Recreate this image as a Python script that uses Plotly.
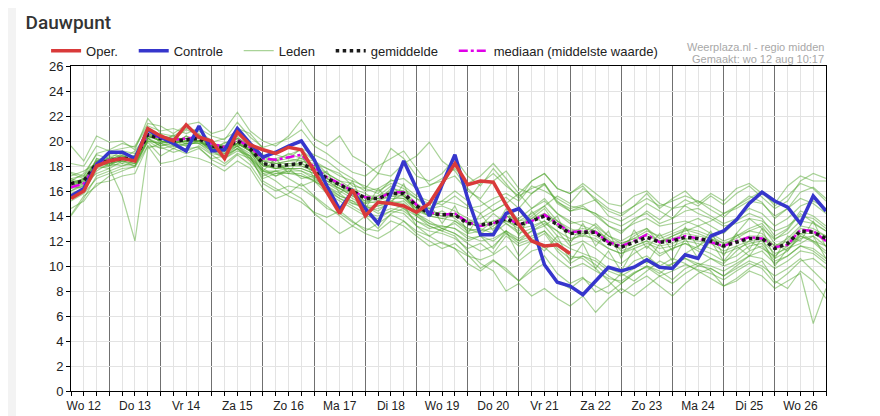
import pandas as pd
import plotly.graph_objects as go

# 6-hourly steps, Wo 12 aug 06:00 .. Wo 26 aug 18:00
times = pd.date_range("2020-08-12 06:00", periods=60, freq="6h")
day_starts = pd.date_range("2020-08-12", periods=15, freq="D")
tick_labels = ["Wo 12", "Do 13", "Vr 14", "Za 15", "Zo 16", "Ma 17", "Di 18", "Wo 19",
               "Do 20", "Vr 21", "Za 22", "Zo 23", "Ma 24", "Di 25", "Wo 26"]

oper = [15.4, 16.0, 18.0, 18.4, 18.6, 18.4, 21.0, 20.4, 20.0, 21.3,
        20.3, 20.0, 18.6, 20.7, 19.7, 19.3, 19.0, 19.5, 19.3, 17.6,
        16.0, 14.2, 16.1, 14.0, 15.1, 15.0, 14.8, 14.3, 15.0, 16.6,
        18.2, 16.5, 16.8, 16.7, 14.9, 13.3, 12.0, 11.6, 11.7, 11.0]

controle = [15.6, 16.2, 18.1, 19.1, 19.1, 18.6, 20.9, 20.3, 19.8, 19.2,
            21.2, 19.2, 19.3, 21.0, 19.8, 18.7, 19.1, 19.6, 20.0, 18.5,
            16.4, 14.5, 16.0, 14.6, 13.4, 15.8, 18.4, 16.2, 14.0, 16.5,
            18.9, 15.4, 12.5, 12.5, 14.2, 14.6, 13.4, 10.1, 8.7, 8.4,
            7.7, 8.8, 9.9, 9.6, 9.9, 10.5, 9.9, 9.8, 10.9, 10.6,
            12.4, 12.8, 13.7, 15.0, 15.9, 15.2, 14.7, 13.4, 15.6, 14.4]

gemiddelde = [16.6, 16.8, 18.2, 18.4, 18.6, 18.6, 20.5, 20.2, 20.0, 20.1,
              20.2, 19.6, 19.4, 20.0, 19.4, 18.2, 18.0, 18.1, 18.2, 17.7,
              17.0, 16.5, 16.0, 15.4, 15.4, 15.8, 15.8, 14.8, 14.2, 14.1,
              14.1, 13.4, 13.3, 13.4, 13.8, 13.3, 13.6, 14.0, 13.3, 12.6,
              12.7, 12.7, 11.8, 11.5, 11.9, 12.3, 11.9, 12.0, 12.3, 12.2,
              12.0, 11.6, 11.9, 12.2, 12.2, 11.4, 11.8, 12.8, 12.7, 12.2]

mediaan = [16.3, 16.6, 18.2, 18.5, 18.6, 18.6, 20.5, 20.3, 20.1, 20.2,
           20.3, 19.8, 19.5, 20.1, 19.5, 18.6, 18.5, 18.7, 18.9, 17.9,
           17.1, 16.6, 16.0, 15.5, 15.4, 15.9, 15.9, 14.9, 14.3, 14.1,
           14.2, 13.5, 13.2, 13.4, 13.9, 13.3, 13.6, 14.1, 13.4, 12.7,
           12.8, 12.7, 11.9, 11.6, 12.0, 12.5, 11.9, 12.1, 12.4, 12.2,
           11.9, 11.6, 12.0, 12.3, 12.2, 11.5, 11.7, 12.9, 12.8, 12.0]

leden = [
    [17.5, 17.2, 19.0, 19.3, 19.8, 19.5, 21.2, 20.8, 21.0, 20.6, 21.0, 20.4, 20.1, 21.5, 20.3, 19.5, 19.8, 20.2, 20.9, 19.6,
     19.0, 18.2, 17.5, 17.2, 18.0, 18.6, 19.2, 17.8, 16.5, 16.8, 17.2, 16.0, 15.4, 16.8, 17.6, 16.2, 15.8, 16.5, 15.1, 14.6,
     14.9, 15.3, 14.0, 13.6, 14.2, 15.0, 14.4, 13.8, 14.9, 15.2, 14.5, 13.9, 14.8, 15.6, 15.1, 13.8, 14.6, 15.9, 16.3, 15.4],
    [15.2, 15.8, 17.0, 17.4, 17.8, 17.9, 19.6, 19.5, 19.1, 19.4, 19.5, 18.5, 18.0, 18.9, 18.1, 16.6, 16.0, 16.4, 16.2, 15.5,
     14.6, 14.2, 13.5, 13.0, 12.8, 13.6, 13.2, 12.4, 11.6, 11.9, 11.4, 10.8, 10.5, 10.9, 11.6, 10.4, 11.2, 11.5, 10.6, 9.8,
     10.2, 9.6, 9.0, 8.8, 9.5, 9.9, 9.2, 9.6, 10.1, 9.7, 9.4, 8.9, 9.6, 10.2, 9.8, 8.6, 9.4, 10.4, 10.6, 9.8],
    [16.9, 16.4, 18.6, 18.0, 18.9, 18.3, 20.9, 19.8, 20.5, 19.7, 20.6, 19.2, 19.9, 19.6, 19.9, 17.6, 18.6, 17.4, 18.9, 17.0,
     17.6, 15.8, 16.8, 14.6, 16.2, 15.0, 16.6, 14.0, 15.0, 13.4, 14.8, 12.6, 14.2, 12.8, 14.6, 12.4, 14.4, 13.2, 14.0, 11.8,
     13.4, 11.6, 12.8, 10.6, 12.9, 11.4, 12.6, 11.2, 13.1, 11.5, 12.8, 10.8, 12.6, 11.3, 13.0, 10.6, 12.4, 12.0, 13.6, 11.5],
    [19.6, 18.4, 20.4, 19.9, 20.0, 19.3, 21.8, 20.6, 20.4, 21.0, 20.8, 20.0, 18.6, 19.2, 18.8, 16.8, 16.2, 15.6, 15.1, 14.3,
     13.9, 14.4, 13.6, 12.8, 13.4, 14.1, 13.6, 12.6, 12.0, 11.4, 11.8, 10.9, 9.8, 10.5, 9.6, 8.8, 9.9, 10.8, 9.4, 8.6,
     9.1, 7.9, 8.4, 9.4, 8.8, 9.6, 10.4, 9.9, 11.0, 11.6, 12.2, 11.4, 12.6, 13.8, 13.0, 12.1, 12.9, 14.2, 13.5, 12.8],
    [16.2, 17.0, 17.8, 18.8, 18.2, 18.9, 20.2, 20.6, 19.6, 20.4, 19.8, 19.9, 20.2, 20.8, 19.6, 18.9, 18.4, 19.0, 18.6, 18.4,
     17.8, 17.4, 16.4, 16.2, 15.8, 16.9, 16.4, 15.6, 15.2, 14.9, 15.6, 14.8, 14.2, 14.9, 15.5, 14.6, 15.8, 16.6, 15.2, 14.4,
     14.8, 14.0, 13.2, 12.6, 13.6, 14.4, 13.7, 14.6, 15.3, 14.8, 15.6, 14.9, 15.8, 16.4, 15.5, 14.6, 15.2, 16.8, 17.4, 17.0],
    [14.1, 15.6, 16.4, 17.2, 17.6, 18.0, 19.9, 18.8, 19.4, 19.0, 19.4, 18.6, 18.8, 19.4, 18.4, 17.2, 17.6, 17.0, 16.4, 16.8,
     15.8, 15.2, 14.6, 14.0, 13.8, 14.4, 14.9, 13.2, 12.8, 12.6, 12.2, 11.4, 11.8, 11.0, 12.4, 11.6, 12.0, 12.6, 11.2, 10.2,
     10.8, 10.1, 9.2, 8.6, 9.4, 10.0, 9.6, 8.9, 9.8, 10.2, 9.6, 8.4, 9.0, 9.8, 10.4, 8.8, 8.2, 9.6, 8.8, 7.4],
    [17.0, 16.6, 17.4, 17.8, 15.6, 12.0, 19.4, 19.8, 20.2, 19.9, 20.4, 19.4, 19.8, 20.4, 19.2, 18.4, 18.6, 18.9, 19.3, 18.4,
     17.4, 16.8, 16.2, 15.8, 15.2, 16.2, 16.0, 15.4, 14.6, 14.8, 14.4, 13.8, 13.2, 14.2, 13.4, 12.8, 13.8, 14.6, 13.2, 12.6,
     12.4, 13.1, 12.0, 11.6, 12.4, 13.0, 11.8, 12.4, 12.9, 12.6, 12.2, 11.5, 12.4, 12.8, 13.2, 11.8, 11.2, 12.6, 12.0, 11.2],
    [16.8, 17.4, 18.9, 18.6, 19.2, 19.0, 20.8, 20.4, 20.2, 20.9, 20.5, 19.9, 19.4, 21.0, 20.6, 19.4, 18.9, 18.6, 19.4, 18.9,
     18.4, 17.6, 17.0, 16.2, 17.4, 17.2, 18.2, 18.8, 19.9, 18.4, 17.6, 16.2, 15.2, 14.4, 15.0, 13.6, 14.2, 14.8, 13.6, 13.0,
     12.6, 13.4, 12.4, 11.8, 12.2, 12.8, 12.4, 12.8, 13.4, 13.8, 13.2, 12.6, 13.6, 14.2, 13.8, 12.4, 13.0, 14.4, 14.0, 13.2],
    [15.8, 16.2, 18.0, 18.2, 18.4, 18.2, 20.0, 19.4, 19.6, 19.2, 19.6, 18.9, 18.2, 19.0, 18.6, 17.0, 17.4, 17.6, 17.2, 16.9,
     16.4, 15.6, 15.2, 14.8, 14.2, 14.6, 14.4, 13.6, 13.2, 12.8, 12.4, 11.2, 10.2, 9.6, 8.0, 8.6, 7.6, 8.2, 7.4, 6.8,
     7.6, 6.3, 7.4, 8.2, 7.6, 8.4, 9.2, 8.6, 9.4, 10.0, 10.6, 10.2, 11.2, 12.0, 11.4, 10.8, 11.6, 12.4, 12.0, 11.6],
    [18.2, 18.0, 19.6, 19.2, 19.4, 19.6, 21.4, 21.2, 20.6, 21.3, 21.5, 20.6, 20.9, 22.3, 20.8, 20.0, 19.6, 20.4, 21.7, 20.2,
     19.6, 20.4, 18.8, 18.2, 17.4, 19.4, 18.6, 17.2, 16.8, 17.4, 18.6, 17.2, 16.4, 17.8, 16.6, 15.4, 16.8, 17.4, 16.2, 15.8,
     16.4, 15.2, 14.4, 14.0, 14.8, 15.8, 14.6, 15.4, 16.0, 15.0, 15.8, 15.2, 16.2, 16.6, 15.8, 15.0, 16.4, 17.2, 16.8, 16.8],
    [16.4, 16.9, 18.4, 18.9, 18.8, 18.4, 20.4, 20.0, 19.8, 20.0, 19.9, 19.4, 19.2, 19.6, 19.0, 17.8, 17.2, 17.8, 17.6, 17.2,
     16.6, 16.2, 15.8, 15.0, 15.6, 16.4, 15.6, 14.6, 14.0, 14.4, 13.8, 13.0, 12.6, 13.2, 14.0, 13.8, 14.6, 15.2, 14.2, 13.6,
     13.2, 12.8, 12.2, 11.2, 11.6, 12.0, 11.0, 11.4, 11.8, 11.4, 11.0, 10.4, 10.8, 11.6, 11.8, 10.6, 11.2, 12.4, 11.9, 11.0],
    [14.6, 15.2, 16.6, 16.8, 17.2, 17.4, 19.6, 18.2, 18.4, 18.8, 18.6, 18.2, 17.6, 18.4, 17.8, 16.2, 15.4, 15.8, 16.6, 15.6,
     14.8, 14.0, 13.2, 12.6, 12.2, 12.8, 13.6, 12.8, 12.4, 13.0, 13.4, 12.6, 12.8, 13.6, 12.6, 12.0, 12.8, 13.4, 12.8, 11.6,
     12.0, 11.4, 10.6, 10.2, 11.0, 11.6, 10.8, 11.4, 11.8, 11.2, 10.6, 10.0, 10.4, 11.2, 11.6, 10.4, 10.8, 11.6, 11.2, 10.4],
    [17.2, 17.6, 18.2, 18.0, 18.6, 19.2, 20.6, 20.0, 19.8, 20.4, 20.0, 19.6, 19.6, 20.2, 19.8, 18.8, 18.2, 18.4, 18.4, 18.2,
     17.8, 17.2, 16.8, 16.4, 16.0, 16.6, 16.2, 15.4, 15.0, 15.2, 15.0, 14.6, 14.8, 15.4, 15.8, 15.2, 16.4, 16.0, 15.4, 14.8,
     14.6, 14.2, 13.6, 13.2, 13.8, 14.2, 13.4, 13.8, 14.4, 14.6, 14.0, 13.4, 13.8, 14.6, 14.2, 13.2, 13.8, 14.8, 15.2, 14.6],
    [15.4, 16.0, 17.6, 18.2, 18.0, 18.4, 20.2, 19.6, 19.8, 19.6, 20.0, 19.2, 18.6, 19.4, 18.6, 17.4, 17.6, 17.8, 17.0, 17.2,
     16.0, 15.4, 15.0, 14.6, 14.8, 15.0, 14.6, 13.6, 13.0, 13.2, 13.0, 12.2, 12.4, 12.0, 12.8, 12.2, 12.8, 13.2, 12.0, 11.4,
     11.0, 10.6, 9.8, 9.4, 10.4, 10.8, 10.0, 10.6, 10.2, 9.6, 9.0, 8.4, 8.8, 9.6, 9.2, 8.2, 8.8, 9.4, 5.4, 8.2],
    [16.0, 16.6, 18.6, 18.4, 19.0, 18.6, 20.4, 20.2, 20.4, 20.0, 20.2, 19.6, 19.0, 19.8, 19.2, 17.4, 16.8, 16.0, 15.4, 14.2,
     13.4, 12.6, 13.2, 14.0, 13.0, 14.2, 14.6, 14.0, 13.2, 12.8, 13.6, 12.8, 13.0, 12.6, 13.4, 12.6, 13.0, 13.6, 12.4, 12.0,
     12.6, 12.0, 11.4, 11.0, 11.4, 11.8, 11.4, 11.6, 12.0, 11.8, 11.4, 11.0, 11.4, 11.8, 12.0, 11.0, 11.4, 12.2, 12.4, 11.6],
    [16.6, 17.0, 18.0, 18.6, 18.4, 18.8, 20.2, 20.4, 20.2, 20.2, 20.4, 19.8, 19.6, 20.2, 19.6, 18.6, 18.4, 18.6, 18.4, 18.0,
     17.2, 16.6, 16.0, 15.4, 15.4, 15.6, 15.6, 14.8, 14.6, 15.2, 16.0, 15.2, 16.6, 17.4, 16.4, 15.6, 16.2, 16.6, 15.0, 14.4,
     14.6, 14.2, 13.2, 12.8, 13.4, 13.8, 13.2, 13.4, 13.6, 13.2, 12.6, 12.0, 12.4, 13.0, 13.4, 12.2, 12.6, 13.6, 13.4, 12.8],
    [16.2, 16.4, 17.8, 18.0, 18.2, 18.0, 20.0, 19.8, 19.4, 19.8, 19.8, 19.0, 18.8, 19.4, 18.8, 17.6, 17.6, 17.4, 17.4, 16.8,
     16.2, 15.6, 15.2, 14.4, 14.6, 15.0, 15.2, 14.2, 13.6, 13.0, 12.6, 11.8, 11.2, 11.6, 12.6, 11.8, 12.2, 12.8, 11.4, 10.6,
     10.8, 10.4, 9.6, 9.2, 9.8, 10.4, 9.8, 10.2, 10.6, 10.0, 9.8, 9.2, 9.8, 10.4, 10.0, 9.2, 9.8, 10.6, 9.6, 8.6],
    [17.4, 17.0, 18.4, 18.6, 18.8, 18.4, 20.6, 20.0, 19.8, 20.2, 20.4, 19.6, 19.4, 19.8, 19.2, 18.0, 18.0, 17.8, 17.8, 17.4,
     16.8, 16.2, 15.6, 15.2, 15.0, 15.4, 15.4, 14.4, 14.0, 13.8, 13.6, 13.0, 12.8, 13.0, 13.6, 13.2, 14.0, 14.8, 15.6, 15.0,
     16.2, 15.4, 14.6, 14.2, 14.8, 15.4, 14.8, 15.2, 15.6, 15.2, 14.8, 14.2, 14.6, 15.2, 15.0, 14.0, 14.6, 15.4, 15.0, 14.2],
    [14.0, 15.4, 17.2, 17.6, 18.0, 18.2, 20.0, 19.8, 20.0, 19.6, 20.0, 19.4, 19.4, 20.0, 19.2, 18.2, 17.8, 18.2, 18.0, 17.6,
     16.8, 16.2, 15.6, 15.0, 15.2, 15.6, 15.4, 14.6, 14.2, 14.0, 14.0, 13.4, 13.2, 13.4, 13.6, 13.0, 13.2, 13.6, 12.8, 12.2,
     12.4, 12.2, 11.4, 11.0, 11.6, 12.0, 11.6, 11.8, 12.2, 12.0, 11.8, 11.2, 11.6, 12.0, 12.2, 11.4, 11.6, 12.6, 12.6, 12.0],
    [16.4, 16.2, 18.0, 17.8, 18.4, 18.0, 20.2, 19.6, 20.0, 19.8, 20.0, 19.2, 18.8, 19.6, 18.6, 17.6, 17.2, 17.6, 17.6, 17.0,
     16.4, 15.8, 15.0, 14.8, 14.4, 15.2, 15.8, 14.2, 13.4, 13.0, 12.6, 12.0, 12.4, 11.4, 12.8, 10.8, 12.0, 11.2, 12.4, 10.4,
     11.8, 9.8, 11.2, 9.6, 11.4, 10.2, 11.8, 10.4, 12.2, 10.6, 12.0, 10.4, 11.6, 10.8, 12.2, 10.0, 11.4, 11.8, 12.4, 10.6],
    [17.0, 17.2, 18.4, 18.6, 18.8, 18.8, 20.6, 20.2, 20.0, 20.2, 20.2, 19.8, 19.4, 20.0, 19.4, 18.4, 18.2, 18.4, 18.6, 18.0,
     17.4, 16.8, 16.6, 16.0, 16.2, 16.8, 17.0, 16.2, 16.4, 17.0, 17.8, 16.6, 17.2, 18.2, 17.0, 15.8, 14.6, 15.4, 14.2, 13.4,
     13.6, 13.2, 12.4, 12.0, 12.6, 13.0, 12.2, 12.6, 13.0, 12.8, 12.4, 11.8, 12.2, 12.8, 12.6, 11.6, 12.2, 13.2, 13.0, 12.4],
    [16.8, 16.6, 18.2, 18.4, 18.6, 18.6, 20.4, 20.2, 20.0, 20.0, 20.0, 19.6, 19.2, 19.8, 19.4, 18.2, 17.8, 18.0, 18.2, 17.6,
     17.0, 16.4, 15.8, 15.2, 15.4, 15.8, 15.8, 14.8, 14.2, 14.0, 14.2, 13.4, 13.2, 13.4, 14.0, 13.4, 13.6, 14.2, 13.2, 12.6,
     12.8, 12.4, 11.8, 11.4, 12.0, 12.6, 12.0, 12.4, 12.8, 13.2, 13.6, 14.2, 14.8, 15.4, 16.0, 14.8, 15.6, 16.6, 16.2, 15.2],
    [16.4, 16.8, 18.2, 18.2, 18.6, 18.6, 20.4, 20.0, 19.8, 20.0, 20.0, 19.4, 19.2, 19.8, 19.2, 18.0, 17.8, 17.8, 17.8, 17.4,
     16.6, 16.0, 15.4, 14.8, 14.8, 15.2, 15.0, 14.0, 13.4, 13.2, 13.0, 12.4, 12.0, 12.2, 12.8, 12.0, 12.4, 12.8, 11.8, 10.8,
     10.6, 9.8, 8.8, 7.8, 8.6, 9.2, 8.4, 7.6, 8.6, 9.4, 9.8, 9.2, 10.0, 10.8, 11.2, 10.2, 10.8, 11.6, 11.4, 10.6],
    [16.6, 17.0, 18.2, 18.4, 18.6, 18.6, 20.6, 20.4, 20.2, 20.2, 20.4, 19.8, 19.6, 20.2, 19.6, 18.4, 18.2, 18.2, 18.2, 17.8,
     17.0, 16.6, 16.0, 15.6, 15.6, 16.0, 16.0, 15.0, 14.4, 14.2, 14.2, 13.6, 13.4, 13.6, 14.0, 13.6, 13.8, 14.2, 13.6, 12.8,
     13.0, 12.8, 12.0, 11.8, 12.2, 12.4, 12.0, 12.2, 12.6, 12.4, 12.2, 11.8, 12.0, 12.4, 12.4, 11.6, 12.0, 13.0, 12.8, 12.4],
    [16.6, 16.8, 18.0, 18.4, 18.6, 18.8, 20.4, 20.0, 19.8, 20.0, 20.0, 19.4, 19.2, 19.8, 19.2, 18.0, 17.8, 18.0, 18.0, 17.6,
     17.0, 16.4, 16.0, 15.4, 15.4, 15.8, 15.6, 14.6, 14.0, 13.8, 14.0, 13.6, 13.8, 14.4, 15.0, 15.8, 16.8, 17.4, 16.2, 15.8,
     16.6, 15.8, 15.0, 14.8, 15.6, 16.0, 15.0, 14.6, 14.8, 14.2, 13.8, 13.2, 13.4, 13.8, 13.6, 12.8, 13.2, 14.0, 13.8, 13.0],
    [16.0, 16.4, 18.0, 18.2, 18.4, 18.2, 20.2, 19.8, 19.6, 19.8, 19.8, 19.2, 19.0, 19.6, 18.8, 17.6, 17.4, 17.4, 17.2, 16.8,
     16.2, 15.4, 14.8, 14.2, 14.0, 14.4, 14.2, 13.2, 12.4, 11.8, 11.4, 10.2, 9.6, 10.4, 9.8, 8.8, 9.6, 10.2, 8.8, 8.2,
     9.0, 8.4, 7.8, 8.6, 9.4, 10.0, 9.4, 10.2, 10.6, 10.2, 10.0, 9.6, 10.2, 10.8, 10.6, 9.8, 10.4, 11.2, 11.0, 10.2],
]

pad = "\u00a0" * 3  # extra room between legend entries

fig = go.Figure()

for i, vals in enumerate(leden):
    fig.add_trace(go.Scatter(
        x=times, y=vals, mode="lines", name="Leden" + pad,
        line=dict(color="rgba(76,162,40,0.48)", width=1.2),
        showlegend=(i == 0), legendrank=3,
    ))

fig.add_trace(go.Scatter(x=times, y=mediaan, mode="lines", name="mediaan (middelste waarde)",
                         line=dict(color="#e000e8", width=2.5, dash="dashdot"), legendrank=5))
fig.add_trace(go.Scatter(x=times, y=gemiddelde, mode="lines", name="gemiddelde" + pad,
                         line=dict(color="#1a1a1a", width=3.5, dash="dot"), legendrank=4))
fig.add_trace(go.Scatter(x=times, y=controle, mode="lines", name="Controle" + pad,
                         line=dict(color="#3636cc", width=3.5), legendrank=2))
fig.add_trace(go.Scatter(x=times[:len(oper)], y=oper, mode="lines", name="Oper." + pad,
                         line=dict(color="#d93a3a", width=3.5), legendrank=1))

alias = {d.strftime("%a %d"): lab for d, lab in zip(day_starts, tick_labels)}

fig.update_xaxes(
    type="date",
    range=[times[0], pd.Timestamp("2020-08-27 00:00")],
    tick0="2020-08-12", dtick=86400000, tickformat="%a %d",
    ticklabelmode="period", labelalias=alias,
    showgrid=True, gridcolor="#707070", gridwidth=1,
    ticks="outside", ticklen=4, tickcolor="#000",
    showline=True, linecolor="#000", linewidth=1, mirror=True,
    tickfont=dict(family="Liberation Sans Narrow, Arial Narrow, Liberation Sans", size=12, color="#222"),
    minor=dict(tick0="2020-08-12", dtick=21600000, showgrid=True, gridcolor="#e3e3e3",
               ticks="outside", ticklen=4, tickcolor="#000"),
)
fig.update_yaxes(
    range=[0, 26], tick0=0, dtick=2,
    showgrid=True, gridcolor="#e3e3e3", zeroline=False,
    ticks="outside", ticklen=4, tickcolor="#000",
    showline=True, linecolor="#000", linewidth=1, mirror=True,
    tickfont=dict(family="Liberation Sans, Arial", size=13, color="#222"),
)

fig.update_layout(
    width=880, height=416,
    margin=dict(l=63, r=62, t=58, b=33, autoexpand=False),
    paper_bgcolor="white", plot_bgcolor="white",
    title=dict(text="Dauwpunt", x=0.02, xanchor="left", y=0.965, yanchor="middle",
               font=dict(family="Roboto", size=19, color="#333", weight=500)),
    legend=dict(orientation="h", x=-0.033, xanchor="left", y=1.047, yanchor="middle",
                bgcolor="rgba(0,0,0,0)", font=dict(family="Liberation Sans, Arial", size=13, color="#222"),
                itemwidth=30, traceorder="normal"),
    showlegend=True,
    hovermode=False,
    annotations=[
        dict(text="Weerplaza.nl - regio midden", xref="paper", yref="paper", x=1, y=1.058,
             xanchor="right", yanchor="middle", showarrow=False,
             font=dict(family="Liberation Sans, Arial", size=11, color="#a8a8a8")),
        dict(text="Gemaakt: wo 12 aug 10:17", xref="paper", yref="paper", x=1, y=1.0215,
             xanchor="right", yanchor="middle", showarrow=False,
             font=dict(family="Liberation Sans, Arial", size=11, color="#a8a8a8")),
    ],
    shapes=[
        dict(type="rect", xref="paper", yref="paper", x0=-0.0834, x1=-0.0728, y0=-0.102, y1=1.18,
             fillcolor="#f3f3f3", line=dict(width=0), layer="below"),
    ],
)

fig.write_html("out.html")
